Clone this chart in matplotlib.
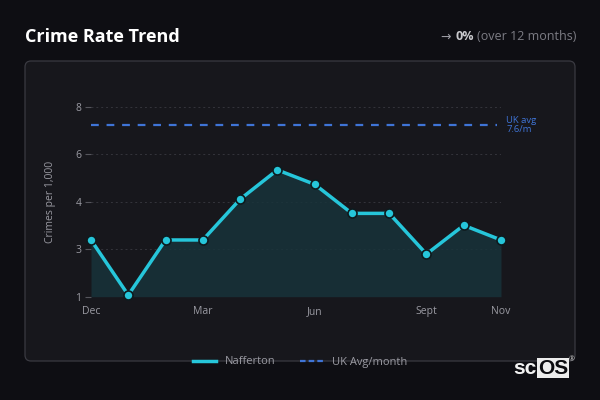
import matplotlib.pyplot as plt
from matplotlib.patches import FancyBboxPatch
from matplotlib.lines import Line2D

# data
months = ["Dec", "Jan", "Feb", "Mar", "Apr", "May", "Jun", "Jul", "Aug", "Sep", "Oct", "Nov"]
crime_rate = [3.09, 1.06, 3.09, 3.09, 4.59, 5.67, 5.14, 4.07, 4.07, 2.57, 3.63, 3.09]
uk_avg = 7.33
uk_avg_label = "UK avg\n7.6/m"
y_ticks = [1, 2.75, 4.5, 6.25, 8]
y_tick_labels = ["1", "3", "4", "6", "8"]
x_tick_idx = [0, 3, 6, 9, 11]
x_tick_labels = ["Dec", "Mar", "Jun", "Sept", "Nov"]

BG = "#0e0e13"
CARD = "#17171c"
CYAN = "#26c6da"
BLUE = "#3f74d6"
GRID = "#34343b"
TXT = "#9a9aa2"

plt.rcParams['font.family'] = ['Open Sans', 'DejaVu Sans']

fig = plt.figure(figsize=(6, 4), dpi=100, facecolor=BG)

# background layer in pixel coordinates
bg = fig.add_axes([0, 0, 1, 1])
bg.set_xlim(0, 600)
bg.set_ylim(400, 0)
bg.axis('off')
bg.add_patch(FancyBboxPatch((25, 61), 550, 300, boxstyle="round,pad=0,rounding_size=6",
                            facecolor=CARD, edgecolor="#3a3a41", lw=0.9))
bg.text(25, 37, "Crime Rate Trend", color="white", fontsize=13, fontweight="bold", va="center")

# header change note, laid out right to left
t1 = bg.text(576, 37, "(over 12 months)", color="#7c7c84", fontsize=9, ha="right", va="center")
t2 = bg.annotate("0%", xy=(0, 0.5), xycoords=t1, xytext=(-3, 0), textcoords="offset pixels",
                 color="#c8c8cc", fontsize=9, fontweight="bold", ha="right", va="center")
bg.annotate("\u2192", xy=(0, 0.5), xycoords=t2, xytext=(-4, 0), textcoords="offset pixels",
            color="#9a9aa2", fontsize=9, ha="right", va="center", family=['DejaVu Sans'])

# scOS logo
bg.text(537, 369, "sc", color="#f2f2f2", fontsize=15, fontweight="bold", va="center", ha="right",
        family=['Liberation Sans'])
bg.add_patch(plt.Rectangle((537, 358), 32, 20, facecolor="#ececec", edgecolor="none"))
bg.text(553, 369, "OS", color="#0b0b0f", fontsize=15, fontweight="bold", va="center", ha="center",
        family=['Liberation Sans'])
bg.text(572, 360, "\u00ae", color="#cfcfcf", fontsize=5, va="center", ha="center")

# main plot
ax = fig.add_axes([91 / 600, 1 - 296.7 / 400, 410 / 600, 190 / 400])
ax.set_facecolor("none")
x = list(range(len(months)))
ax.fill_between(x, crime_rate, 1, color="#18333a", alpha=0.85, lw=0)
ax.plot(x, crime_rate, color=CYAN, lw=2.5, marker="o", markersize=6.5,
        markerfacecolor=CYAN, markeredgecolor="#0e1a1e", markeredgewidth=1.2,
        clip_on=False, zorder=4)
ax.plot([0, len(months) - 1.1], [uk_avg, uk_avg], color=BLUE, lw=1.6,
        ls=(0, (3.5, 3.5)), zorder=3)
ax.text(len(months) - 0.86, uk_avg, uk_avg_label, color=BLUE, fontsize=6.8,
        va="center", ha="left", linespacing=1.1)

ax.set_xlim(0, len(months) - 1)
ax.set_ylim(1, 8)
ax.set_yticks(y_ticks)
ax.set_yticklabels(y_tick_labels)
ax.set_xticks(x_tick_idx)
ax.set_xticklabels(x_tick_labels)
ax.grid(axis="y", color=GRID, ls=(0, (2, 3)), lw=0.7)
ax.set_axisbelow(True)
for s in ax.spines.values():
    s.set_visible(False)
ax.tick_params(axis="y", colors="#55555c", labelcolor=TXT, labelsize=7.5, length=4, pad=3)
ax.tick_params(axis="x", length=0, labelcolor=TXT, labelsize=7.5, pad=7)
ax.set_ylabel("Crimes per 1,000", color=TXT, fontsize=7.5, labelpad=14)

# legend
handles = [Line2D([], [], color=CYAN, lw=2.5),
           Line2D([], [], color=BLUE, lw=1.6, ls=(0, (2.5, 1.4)))]
leg = fig.legend(handles, ["Nafferton", "UK Avg/month"], loc="center",
                 bbox_to_anchor=(0.5, 1 - 362 / 400), ncol=2, frameon=False,
                 fontsize=8, handlelength=2.1, handletextpad=0.8, columnspacing=2.2)
for t in leg.get_texts():
    t.set_color(TXT)

fig.savefig("out.png", dpi=100, facecolor=BG)
